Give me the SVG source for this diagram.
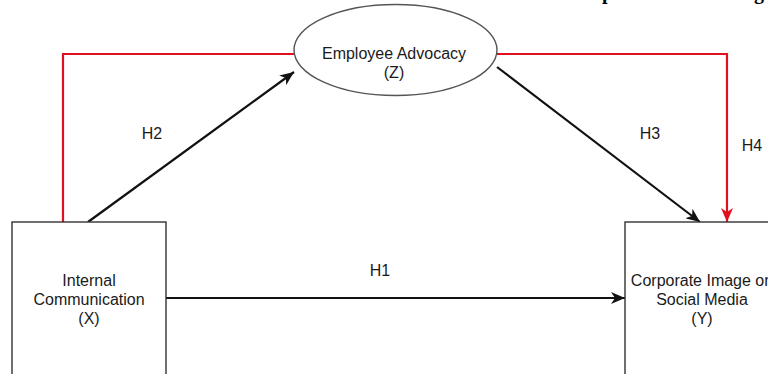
<svg xmlns="http://www.w3.org/2000/svg" width="768" height="374" viewBox="0 0 768 374">
<defs>
<style>
.box{fill:#fff;stroke:#333;stroke-width:1.4}
.ell{fill:#fff;stroke:#555;stroke-width:1.4}
.t{font-family:"Liberation Sans",Arial,sans-serif;font-size:16px;fill:#1a1a1a;text-anchor:middle}
.blk{fill:none;stroke:#111;stroke-width:2.2}
.red{fill:none;stroke:#e0101e;stroke-width:2.2}
.frag{font-family:"Liberation Serif","Times New Roman",serif;font-size:20px;font-weight:bold;fill:#000}
</style>
<marker id="ab" markerUnits="userSpaceOnUse" markerWidth="14" markerHeight="12" viewBox="0 0 14 12" refX="14" refY="6" orient="auto">
<path d="M0,0 L14,6 L0,12 L4,6 z" fill="#111"/>
</marker>
<marker id="ar" markerUnits="userSpaceOnUse" markerWidth="14" markerHeight="12" viewBox="0 0 14 12" refX="14" refY="6" orient="auto">
<path d="M0,0 L14,6 L0,12 L4,6 z" fill="#e0101e"/>
</marker>
</defs>
<rect width="768" height="374" fill="#fff"/>
<text class="frag" x="602" y="-1">p</text>
<text class="frag" x="754" y="-1">g</text>
<g id="connectors">
<polyline class="red" points="63,222 63,54 294,54"/>
<polyline class="red" points="497,54 727,54 727,222" marker-end="url(#ar)"/>
<line class="blk" x1="88" y1="222" x2="294" y2="72" marker-end="url(#ab)"/>
<line class="blk" x1="497" y1="67" x2="700" y2="222" marker-end="url(#ab)"/>
<line class="blk" x1="166" y1="298" x2="625" y2="298" marker-end="url(#ab)"/>
<text class="t" x="152" y="139">H2</text>
<text class="t" x="650" y="139">H3</text>
<text class="t" x="752" y="151">H4</text>
<text class="t" x="380" y="276">H1</text>
</g>
<g id="node-x">
<rect class="box" x="12" y="222" width="154" height="160"/>
<text class="t" x="89" y="286">Internal</text>
<text class="t" x="89" y="305">Communication</text>
<text class="t" x="89" y="324">(X)</text>
</g>
<g id="node-z">
<ellipse class="ell" cx="395.5" cy="50" rx="101.5" ry="45.5"/>
<text class="t" x="394" y="59">Employee Advocacy</text>
<text class="t" x="394" y="78">(Z)</text>
</g>
<g id="node-y">
<rect class="box" x="625" y="222" width="160" height="160"/>
<text class="t" x="702" y="286">Corporate Image on</text>
<text class="t" x="702" y="305">Social Media</text>
<text class="t" x="702" y="324">(Y)</text>
</g>
</svg>
